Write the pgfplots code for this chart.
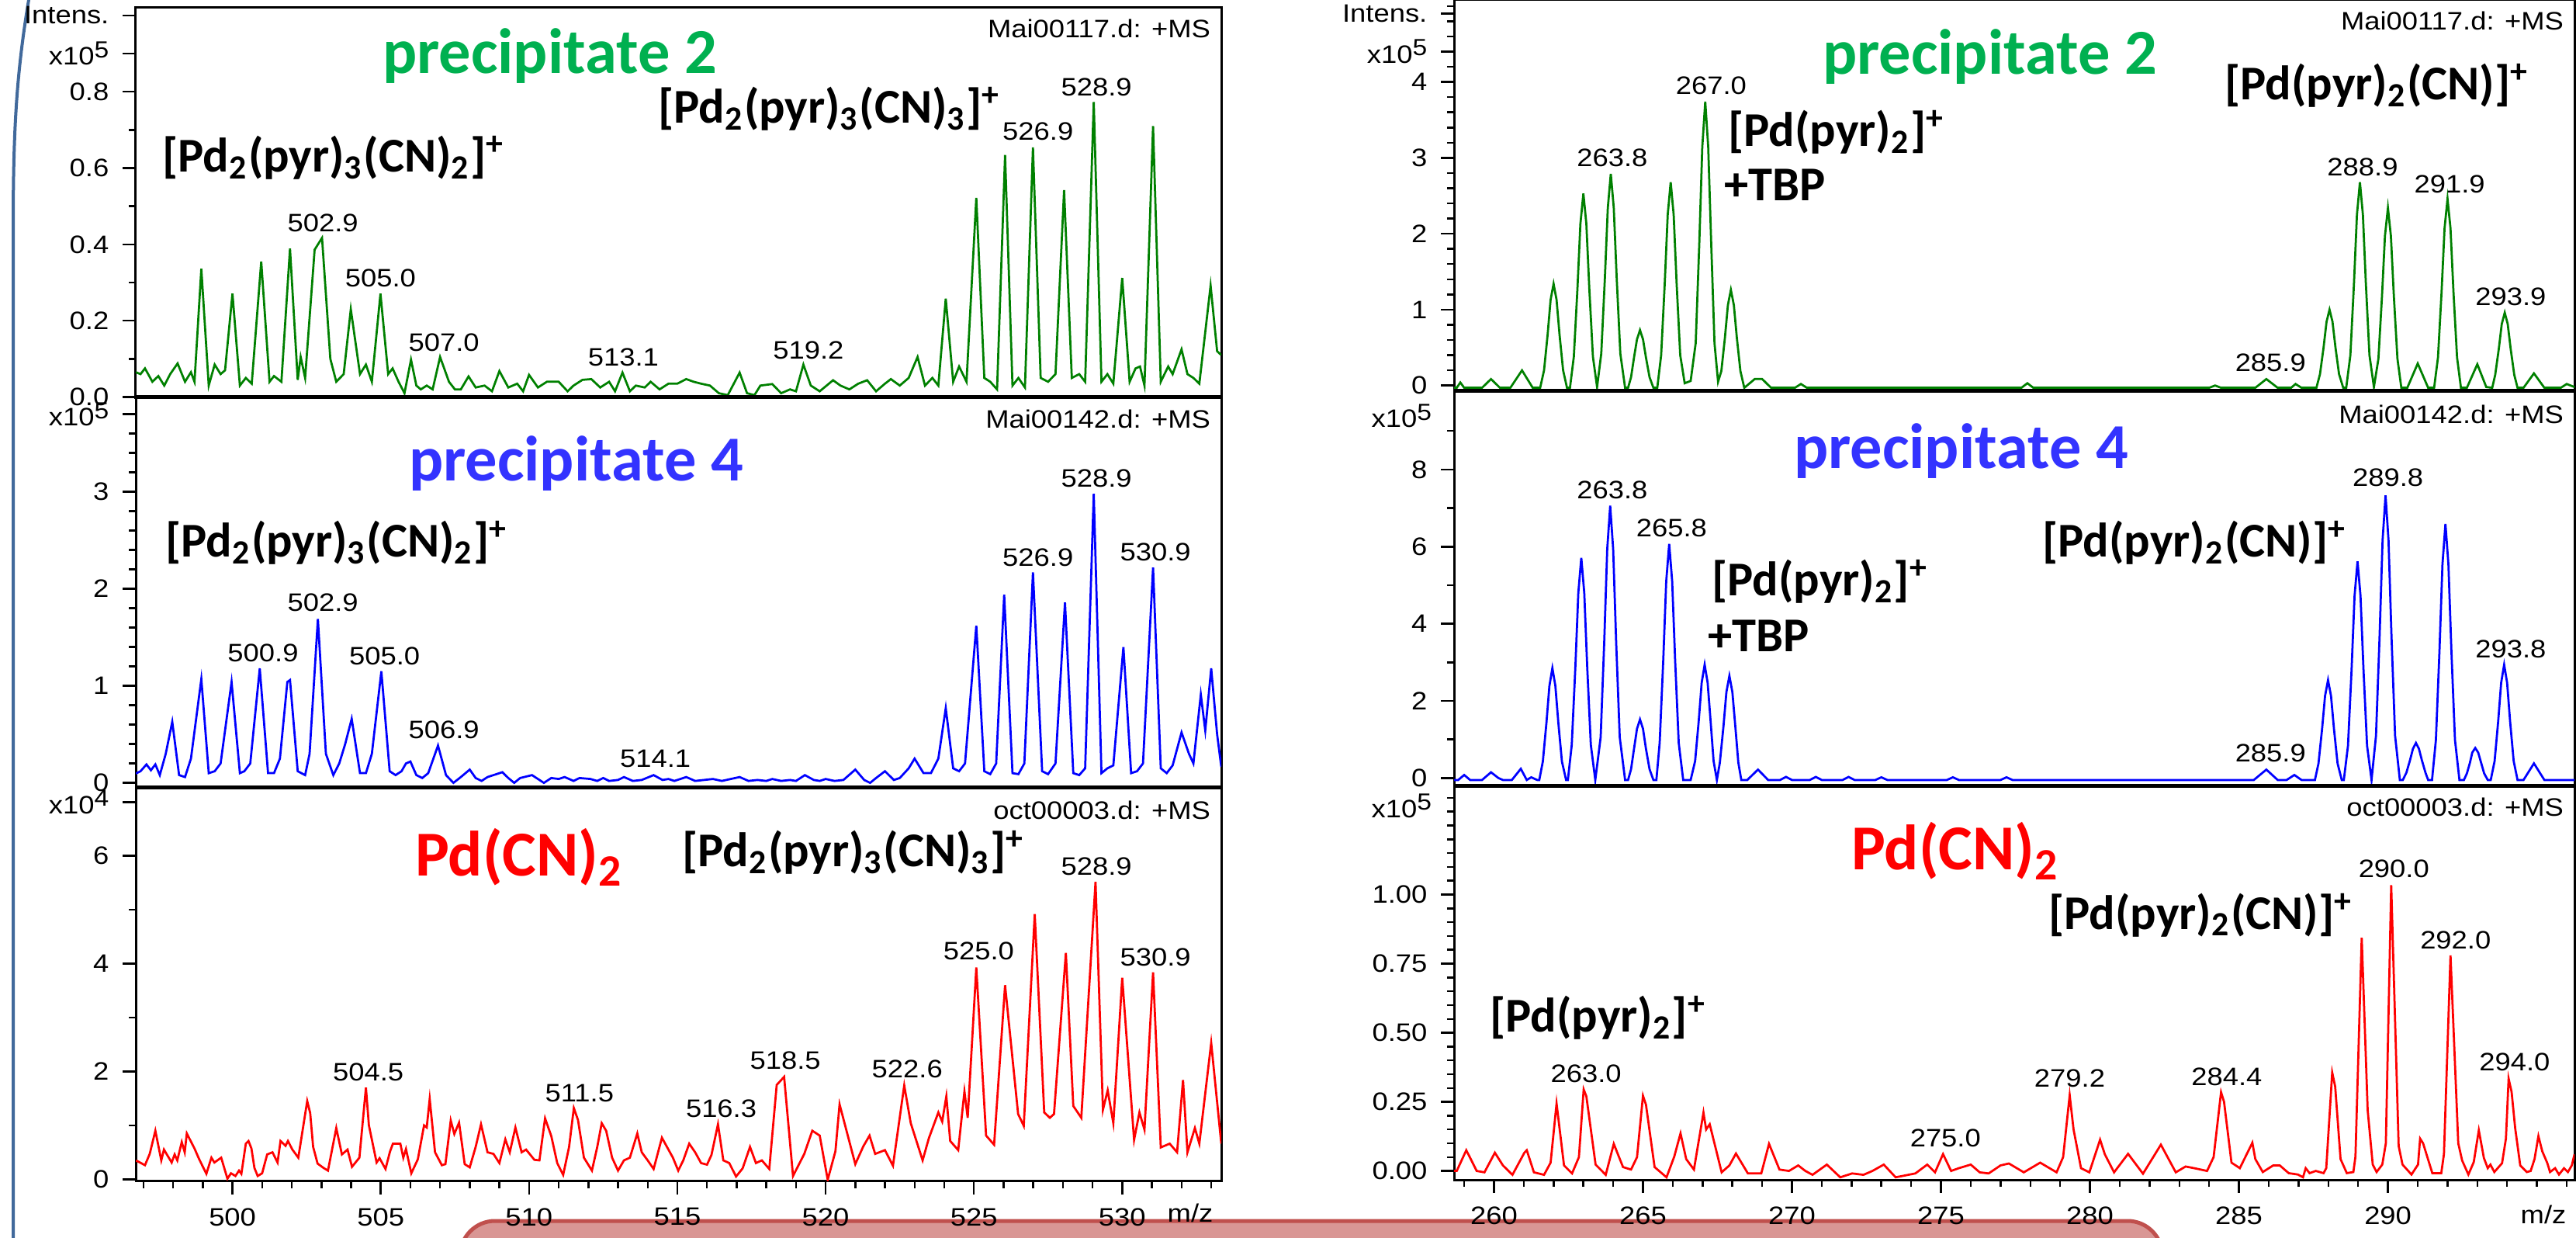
\documentclass[border=0pt]{standalone}
\usepackage{fontspec}
\setmainfont{Liberation Sans}[FakeStretch=1.12]
\newfontfamily\carlito{Carlito}
\usepackage{pgfplots}
\pgfplotsset{compat=1.18}
\definecolor{tgreen}{RGB}{0,176,80}
\definecolor{tblue}{RGB}{51,51,255}
\definecolor{tred}{RGB}{255,0,0}
\definecolor{sgreen}{RGB}{0,128,0}
\definecolor{sblue}{RGB}{0,0,255}
\definecolor{sred}{RGB}{255,0,0}
\definecolor{brk}{RGB}{65,105,155}
\definecolor{pinkfill}{RGB}{217,150,148}
\definecolor{pinkline}{RGB}{192,80,77}
\newcommand{\tl}{\fontsize{6.5}{7.5}\selectfont}
\newcommand{\tfont}{\carlito\bfseries\fontsize{16.5}{18}\selectfont}
\newcommand{\ffont}{\carlito\bfseries\fontsize{12.5}{14}\selectfont}
\newcommand{\xten}[1]{x10\raisebox{1.9pt}{\fontsize{6}{7}\selectfont #1}}
\pgfplotsset{
  ms/.style={scale only axis, anchor=south west,
    axis line style={line width=0.6pt},
    tick align=outside, tick pos=left,
    major tick length=3.4pt, minor tick length=1.8pt,
    tick style={line width=0.5pt, black},
    /pgf/number format/assume math mode=true,
    tick label style={font=\tl},
    every axis plot/.append style={line width=0.55pt, mark=none}},
  lx/.style={xmin=496.74, xmax=533.34, width=279.8pt},
  rx/.style={xmin=258.66, xmax=296.26, width=288.8pt},
}
\tikzset{lbl/.style={anchor=south, inner sep=0pt, font=\tl}}
\begin{document}
\begin{tikzpicture}
\useasboundingbox (0,0) rectangle (664pt,318.8pt);
% pink box and bracket
\draw[line width=1pt, draw=pinkline, fill=pinkfill, rounded corners=9pt] (118.6pt,-20pt) rectangle (557.4pt,4.2pt);
\draw[brk, line width=0.8pt] (7.6pt,320pt) .. controls (4.2pt,300pt) and (3.4pt,285pt) .. (3.4pt,260pt) -- (3.4pt,-2pt);

% ---------------- L1 ----------------
\begin{axis}[ms, lx, at={(35pt,216.2pt)}, height=100.6pt,
  ymin=-0.003, ymax=1.02, xtick=\empty,
  ytick={0,0.2,0.4,0.6,0.8,0.9,1.0},
  yticklabels={0.0,0.2,0.4,0.6,0.8,\xten{5},Intens.},
  minor ytick={0.1,0.3,0.5,0.7}]
\addplot[sgreen] coordinates {(496.74,0.065)(496.9,0.06)(497.05,0.075)(497.3,0.04)(497.5,0.055)(497.7,0.03)(497.9,0.06)(498.15,0.088)(498.4,0.04)(498.6,0.065)(498.72,0.04)(498.95,0.336)(499.2,0.03)(499.4,0.085)(499.6,0.06)(499.75,0.07)(500.0,0.271)(500.25,0.03)(500.45,0.05)(500.65,0.035)(500.97,0.355)(501.25,0.04)(501.4,0.055)(501.65,0.04)(501.94,0.389)(502.2,0.045)(502.3,0.105)(502.45,0.05)(502.77,0.386)(503.02,0.417)(503.3,0.1)(503.5,0.04)(503.75,0.06)(503.99,0.23)(504.3,0.06)(504.5,0.085)(504.7,0.04)(504.99,0.271)(505.25,0.06)(505.4,0.075)(505.6,0.04)(505.8,0.01)(506.02,0.098)(506.2,0.03)(506.35,0.02)(506.55,0.03)(506.75,0.02)(507.0,0.105)(507.3,0.04)(507.5,0.02)(507.7,0.02)(507.96,0.054)(508.2,0.025)(508.5,0.03)(508.75,0.015)(509.0,0.068)(509.3,0.025)(509.6,0.035)(509.8,0.015)(510.0,0.058)(510.3,0.025)(510.6,0.04)(511.0,0.04)(511.3,0.015)(511.5,0.03)(511.8,0.045)(512.1,0.047)(512.4,0.025)(512.7,0.04)(512.9,0.015)(513.15,0.064)(513.4,0.015)(513.6,0.03)(513.9,0.025)(514.1,0.04)(514.4,0.02)(514.7,0.035)(515.0,0.035)(515.3,0.047)(515.55,0.04)(515.8,0.035)(516.1,0.03)(516.4,0.01)(516.7,0.005)(517.1,0.064)(517.35,0.01)(517.6,0.005)(517.8,0.03)(518.2,0.034)(518.5,0.01)(518.8,0.02)(519.0,0.015)(519.25,0.085)(519.5,0.03)(519.8,0.015)(520.25,0.044)(520.5,0.03)(520.8,0.02)(521.1,0.035)(521.4,0.044)(521.7,0.015)(522.0,0.035)(522.2,0.047)(522.5,0.03)(522.8,0.05)(523.1,0.105)(523.35,0.03)(523.6,0.05)(523.8,0.03)(524.05,0.258)(524.3,0.04)(524.5,0.08)(524.75,0.04)(525.08,0.522)(525.35,0.05)(525.55,0.04)(525.78,0.02)(526.05,0.634)(526.3,0.03)(526.5,0.05)(526.72,0.025)(526.99,0.654)(527.25,0.05)(527.5,0.04)(527.75,0.06)(528.04,0.542)(528.3,0.05)(528.55,0.06)(528.75,0.04)(529.04,0.773)(529.3,0.04)(529.5,0.06)(529.7,0.035)(530.0,0.312)(530.25,0.04)(530.45,0.075)(530.6,0.08)(530.75,0.03)(531.04,0.71)(531.3,0.04)(531.55,0.08)(531.7,0.06)(532.0,0.125)(532.2,0.06)(532.4,0.05)(532.6,0.035)(532.98,0.292)(533.2,0.12)(533.34,0.11)};
\node[lbl] at (axis cs:503.05,0.43) {502.9};
\node[lbl] at (axis cs:504.99,0.287) {505.0};
\node[lbl] at (axis cs:507.13,0.117) {507.0};
\node[lbl] at (axis cs:513.18,0.078) {513.1};
\node[lbl] at (axis cs:519.42,0.098) {519.2};
\node[lbl] at (axis cs:527.16,0.671) {526.9};
\node[lbl] at (axis cs:529.13,0.786) {528.9};
\draw[line width=1.6pt] (rel axis cs:0,0) -- (rel axis cs:1,0);
\end{axis}

% ---------------- L2 ----------------
\begin{axis}[ms, lx, at={(35pt,115.6pt)}, height=100.6pt,
  ymin=-0.059, ymax=3.965, xtick=\empty,
  ytick={0,1,2,3,3.8}, yticklabels={0,1,2,3,\xten{5}},
  minor ytick={0.2,0.4,0.6,0.8,1.2,1.4,1.6,1.8,2.2,2.4,2.6,2.8,3.2,3.4,3.6}]
\addplot[sblue] coordinates {(496.74,0.096)(496.9,0.12)(497.1,0.19)(497.25,0.13)(497.4,0.19)(497.55,0.08)(497.75,0.3)(497.97,0.63)(498.2,0.08)(498.4,0.06)(498.6,0.25)(498.95,1.07)(499.2,0.1)(499.4,0.12)(499.6,0.2)(499.97,1.04)(500.25,0.1)(500.4,0.12)(500.6,0.2)(500.92,1.18)(501.2,0.1)(501.4,0.1)(501.6,0.25)(501.85,1.04)(501.94,1.06)(502.2,0.12)(502.45,0.08)(502.6,0.3)(502.88,1.69)(503.15,0.3)(503.4,0.08)(503.6,0.2)(503.8,0.4)(504.02,0.66)(504.3,0.1)(504.5,0.1)(504.7,0.3)(505.02,1.15)(505.3,0.12)(505.5,0.08)(505.7,0.12)(505.85,0.2)(506.0,0.22)(506.2,0.08)(506.4,0.05)(506.6,0.1)(506.93,0.385)(507.2,0.08)(507.45,0.0)(507.7,0.06)(508.0,0.137)(508.2,0.05)(508.4,0.02)(508.6,0.06)(508.8,0.08)(509.1,0.11)(509.3,0.05)(509.5,0.0)(509.7,0.05)(510.1,0.08)(510.3,0.04)(510.5,0.0)(510.75,0.05)(511.0,0.04)(511.2,0.06)(511.5,0.02)(511.7,0.05)(512.07,0.04)(512.3,0.02)(512.5,0.05)(512.7,0.02)(513.0,0.03)(513.2,0.06)(513.5,0.02)(513.8,0.03)(514.2,0.08)(514.5,0.03)(514.7,0.04)(514.9,0.02)(515.3,0.06)(515.6,0.02)(515.9,0.03)(516.2,0.04)(516.5,0.02)(516.8,0.04)(517.1,0.06)(517.4,0.02)(517.7,0.03)(518.0,0.02)(518.2,0.04)(518.5,0.02)(518.8,0.03)(519.0,0.02)(519.3,0.08)(519.6,0.03)(519.8,0.02)(520.0,0.04)(520.3,0.02)(520.6,0.03)(521.0,0.137)(521.3,0.03)(521.5,0.0)(521.7,0.05)(522.0,0.12)(522.3,0.03)(522.5,0.05)(522.8,0.15)(523.0,0.25)(523.3,0.1)(523.55,0.1)(523.8,0.25)(524.05,0.77)(524.3,0.15)(524.5,0.12)(524.7,0.2)(525.08,1.62)(525.35,0.12)(525.55,0.09)(525.75,0.2)(526.02,1.94)(526.3,0.1)(526.5,0.09)(526.7,0.2)(526.99,2.17)(527.3,0.12)(527.5,0.09)(527.75,0.2)(528.07,1.86)(528.35,0.1)(528.55,0.08)(528.75,0.15)(529.04,2.98)(529.3,0.1)(529.5,0.15)(529.7,0.18)(530.04,1.40)(530.3,0.1)(530.5,0.12)(530.7,0.2)(531.04,2.22)(531.3,0.15)(531.5,0.1)(531.7,0.18)(532.0,0.52)(532.25,0.3)(532.4,0.2)(532.65,0.91)(532.8,0.54)(533.0,1.18)(533.2,0.5)(533.34,0.165)};
\node[lbl] at (axis cs:501.03,1.236) {500.9};
\node[lbl] at (axis cs:503.05,1.758) {502.9};
\node[lbl] at (axis cs:505.13,1.209) {505.0};
\node[lbl] at (axis cs:507.13,0.448) {506.9};
\node[lbl] at (axis cs:514.26,0.151) {514.1};
\node[lbl] at (axis cs:527.16,2.225) {526.9};
\node[lbl] at (axis cs:529.13,3.04) {528.9};
\node[lbl] at (axis cs:531.12,2.28) {530.9};
\draw[line width=1.6pt] (rel axis cs:0,0) -- (rel axis cs:1,0);
\end{axis}

% ---------------- L3 ----------------
\begin{axis}[ms, lx, at={(35pt,14.46pt)}, height=101.14pt,
  ymin=-0.035, ymax=7.25,
  xtick={500,505,510,515,520,525,530},
  minor xtick={497,498,...,533},
  ytick={0,2,4,6,7}, yticklabels={0,2,4,6,\xten{4}},
  minor ytick={1,3,5}]
\addplot[sred] coordinates {(496.74,0.34)(496.78,0.34)(497.05,0.26)(497.21,0.47)(497.4,0.9)(497.6,0.35)(497.69,0.55)(497.95,0.31)(498.05,0.46)(498.14,0.35)(498.29,0.69)(498.39,0.5)(498.46,0.85)(498.72,0.57)(498.87,0.38)(499.12,0.1)(499.29,0.4)(499.39,0.31)(499.62,0.4)(499.83,0.01)(499.95,0.11)(500.1,0.06)(500.22,0.16)(500.3,0.1)(500.45,0.66)(500.54,0.71)(500.64,0.57)(500.74,0.21)(500.85,0.06)(501.0,0.11)(501.17,0.46)(501.35,0.5)(501.52,0.31)(501.62,0.71)(501.79,0.62)(501.87,0.71)(502.02,0.55)(502.22,0.4)(502.52,1.45)(502.62,1.23)(502.72,0.6)(502.87,0.29)(503.07,0.21)(503.22,0.16)(503.5,0.95)(503.69,0.46)(503.88,0.55)(504.03,0.23)(504.28,0.4)(504.5,1.7)(504.6,1.0)(504.86,0.31)(504.96,0.39)(505.16,0.19)(505.31,0.51)(505.41,0.66)(505.66,0.66)(505.76,0.4)(505.85,0.56)(506.03,0.11)(506.25,0.37)(506.46,1.0)(506.55,0.96)(506.65,1.49)(506.83,0.5)(507.06,0.26)(507.18,0.28)(507.36,1.09)(507.48,0.84)(507.64,1.05)(507.83,0.28)(508.0,0.22)(508.2,0.6)(508.38,1.02)(508.6,0.5)(508.8,0.47)(509.0,0.3)(509.2,0.74)(509.35,0.5)(509.54,0.96)(509.75,0.5)(509.9,0.55)(510.18,0.36)(510.35,0.35)(510.54,1.13)(510.75,0.8)(510.95,0.3)(511.15,0.08)(511.35,0.6)(511.51,1.32)(511.65,1.1)(511.85,0.4)(512.12,0.16)(512.3,0.6)(512.45,1.04)(512.6,0.9)(512.8,0.4)(513.0,0.16)(513.2,0.35)(513.4,0.4)(513.65,0.85)(513.8,0.5)(514.0,0.35)(514.2,0.19)(514.48,0.77)(514.65,0.6)(514.85,0.4)(515.03,0.16)(515.2,0.35)(515.4,0.66)(515.6,0.5)(515.8,0.3)(516.0,0.27)(516.15,0.45)(516.37,1.02)(516.55,0.35)(516.75,0.3)(516.98,0.05)(517.2,0.2)(517.45,0.6)(517.65,0.3)(517.85,0.35)(518.1,0.19)(518.35,1.75)(518.6,1.9)(518.9,0.06)(519.28,0.47)(519.55,0.9)(519.8,0.81)(520.07,-0.01)(520.33,0.52)(520.47,1.39)(520.68,0.95)(521.0,0.28)(521.27,0.61)(521.48,0.81)(521.67,0.47)(522.0,0.54)(522.27,0.25)(522.65,1.74)(522.87,1.04)(523.27,0.35)(523.48,0.76)(523.8,1.24)(523.93,1.07)(524.07,1.54)(524.2,0.71)(524.47,0.54)(524.68,1.63)(524.79,1.14)(525.08,3.93)(525.41,0.81)(525.68,0.64)(526.05,3.6)(526.49,1.21)(526.68,0.99)(527.05,4.92)(527.37,1.24)(527.56,1.14)(527.7,1.21)(528.1,4.2)(528.35,1.36)(528.62,1.14)(529.1,5.52)(529.35,1.29)(529.51,1.65)(529.7,1.04)(530.0,3.74)(530.4,0.73)(530.58,1.24)(530.75,0.92)(531.04,3.84)(531.3,0.59)(531.6,0.66)(531.85,0.5)(532.05,1.84)(532.2,0.5)(532.45,0.95)(532.6,0.66)(533.0,2.53)(533.34,0.66)};
\node[lbl] at (axis cs:504.58,1.813) {504.5};
\node[lbl] at (axis cs:511.7,1.418) {511.5};
\node[lbl] at (axis cs:516.48,1.126) {516.3};
\node[lbl] at (axis cs:518.64,2.02) {518.5};
\node[lbl] at (axis cs:522.75,1.868) {522.6};
\node[lbl] at (axis cs:525.16,4.05) {525.0};
\node[lbl] at (axis cs:529.13,5.63) {528.9};
\node[lbl] at (axis cs:531.12,3.945) {530.9};
\end{axis}

% ---------------- R1 ----------------
\begin{axis}[ms, rx, at={(374.8pt,217.8pt)}, height=101pt,
  ymin=-0.085, ymax=5.08, xtick=\empty,
  ytick={0,1,2,3,4,4.4,4.9}, yticklabels={0,1,2,3,4,\xten{5},Intens.},
  minor ytick={0.2,0.4,...,5.0}]
\addplot[sgreen] coordinates {(258.66,-0.03)(258.75,-0.03)(258.87,0.04)(259.0,-0.03)(259.6,-0.03)(259.9,0.085)(260.2,-0.03)(260.55,-0.03)(260.94,0.2)(261.3,-0.03)
(261.55,-0.03)(261.68,0.2)(261.8,0.67)(261.9,1.13)(262.0,1.34)(262.1,1.13)(262.2,0.67)(262.32,0.2)(262.45,-0.03)
(262.55,-0.03)(262.68,0.38)(262.8,1.27)(262.9,2.13)(263.0,2.53)(263.1,2.13)(263.2,1.27)(263.32,0.38)(263.46,-0.02)
(263.6,0.42)(263.72,1.4)(263.82,2.34)(263.92,2.79)(264.02,2.34)(264.12,1.4)(264.24,0.42)(264.4,-0.03)
(264.5,-0.03)(264.6,0.11)(264.7,0.37)(264.8,0.61)(264.9,0.73)(265.0,0.61)(265.1,0.37)(265.22,0.11)(265.35,-0.03)
(265.48,-0.03)(265.61,0.4)(265.73,1.34)(265.83,2.25)(265.93,2.68)(266.03,2.25)(266.13,1.34)(266.25,0.4)(266.4,0.03)
(266.6,0.06)(266.77,0.56)(266.89,1.87)(266.99,3.14)(267.09,3.74)(267.19,3.14)(267.29,1.87)(267.4,0.56)(267.52,0.05)
(267.63,0.19)(267.75,0.63)(267.85,1.06)(267.95,1.26)(268.05,1.06)(268.15,0.63)(268.27,0.19)(268.4,-0.03)
(268.75,0.085)(269.0,0.085)(269.3,-0.03)(270.1,-0.03)(270.3,0.02)(270.5,-0.03)(277.7,-0.03)(277.9,0.03)(278.1,-0.03)(284.0,-0.03)(284.2,0.0)(284.4,-0.03)(285.55,-0.03)(285.92,0.085)(286.3,-0.03)(286.75,-0.03)(286.9,0.02)(287.1,-0.03)
(287.6,-0.03)(287.72,0.15)(287.84,0.5)(287.94,0.84)(288.04,1.0)(288.14,0.84)(288.24,0.5)(288.36,0.15)(288.5,-0.03)
(288.6,-0.03)(288.74,0.4)(288.86,1.34)(288.96,2.25)(289.06,2.68)(289.16,2.25)(289.26,1.34)(289.38,0.4)(289.53,-0.02)
(289.68,0.35)(289.8,1.17)(289.9,1.97)(290.0,2.34)(290.1,1.97)(290.2,1.17)(290.32,0.35)(290.45,-0.03)
(290.65,-0.03)(291.0,0.29)(291.35,-0.03)
(291.55,-0.03)(291.68,0.37)(291.8,1.23)(291.9,2.07)(292.0,2.46)(292.1,2.07)(292.2,1.23)(292.32,0.37)(292.45,-0.03)
(292.65,-0.03)(293.0,0.28)(293.3,-0.02)
(293.5,-0.03)(293.6,0.14)(293.72,0.48)(293.82,0.81)(293.92,0.96)(294.02,0.81)(294.12,0.48)(294.24,0.14)(294.35,-0.03)
(294.55,-0.03)(294.9,0.16)(295.25,-0.03)(295.8,-0.03)(296.0,0.02)(296.26,-0.02)};
\node[lbl] at (axis cs:267.29,3.82) {267.0};
\node[lbl] at (axis cs:263.97,2.87) {263.8};
\node[lbl] at (axis cs:286.06,0.17) {285.9};
\node[lbl] at (axis cs:289.15,2.75) {288.9};
\node[lbl] at (axis cs:292.07,2.53) {291.9};
\node[lbl] at (axis cs:294.12,1.04) {293.9};
\draw[line width=1.6pt] (rel axis cs:0,0) -- (rel axis cs:1,0);
\end{axis}

% ---------------- R2 ----------------
\begin{axis}[ms, rx, at={(374.8pt,116pt)}, height=101.8pt,
  ymin=-0.233, ymax=10.01, xtick=\empty,
  ytick={0,2,4,6,8}, yticklabels={0,2,4,6,8},
  minor ytick={1,3,5,7,9}]
\addplot[sblue] coordinates {(258.66,-0.05)(258.8,-0.05)(259.0,0.08)(259.2,-0.05)(259.6,-0.05)(259.9,0.15)(260.15,0.0)(260.3,-0.05)(260.6,-0.05)(260.9,0.24)(261.1,-0.05)(261.25,0.02)(261.45,-0.05)
(261.52,-0.05)(261.64,0.43)(261.76,1.43)(261.86,2.39)(261.96,2.85)(262.06,2.39)(262.16,1.43)(262.28,0.43)(262.42,-0.05)
(262.48,-0.05)(262.61,0.86)(262.73,2.86)(262.83,4.8)(262.93,5.71)(263.03,4.8)(263.13,2.86)(263.25,0.86)(263.4,-0.05)
(263.58,1.06)(263.7,3.53)(263.8,5.93)(263.9,7.06)(264.0,5.93)(264.1,3.53)(264.22,1.06)(264.4,-0.05)
(264.5,-0.05)(264.6,0.23)(264.7,0.76)(264.8,1.28)(264.9,1.52)(265.0,1.28)(265.1,0.76)(265.22,0.23)(265.35,-0.05)
(265.45,-0.05)(265.56,0.91)(265.68,3.04)(265.78,5.1)(265.88,6.07)(265.98,5.1)(266.08,3.04)(266.2,0.91)(266.35,-0.05)
(266.6,-0.05)(266.75,0.44)(266.87,1.47)(266.97,2.47)(267.07,2.94)(267.17,2.47)(267.27,1.47)(267.37,0.44)(267.48,-0.05)
(267.58,0.4)(267.7,1.33)(267.8,2.23)(267.9,2.65)(268.0,2.23)(268.1,1.33)(268.2,0.4)(268.3,-0.05)
(268.5,-0.05)(268.86,0.22)(269.2,-0.05)(269.6,-0.05)(269.8,0.03)(270.0,-0.05)(270.6,-0.05)(270.8,0.03)(271.0,-0.05)(271.7,-0.05)(271.9,0.03)(272.1,-0.05)(272.8,-0.05)(273.0,0.02)(273.2,-0.05)(275.2,-0.05)(275.4,0.02)(275.6,-0.05)(277.0,-0.05)(277.2,0.02)(277.4,-0.05)(285.5,-0.05)(285.92,0.22)(286.3,-0.05)(286.6,-0.05)(286.86,0.08)(287.1,-0.05)
(287.55,-0.05)(287.67,0.38)(287.79,1.27)(287.89,2.13)(287.99,2.54)(288.09,2.13)(288.19,1.27)(288.31,0.38)(288.45,-0.05)
(288.52,-0.05)(288.66,0.84)(288.78,2.81)(288.88,4.72)(288.98,5.62)(289.08,4.72)(289.18,2.81)(289.3,0.84)(289.45,-0.05)
(289.6,1.1)(289.72,3.67)(289.82,6.16)(289.92,7.33)(290.02,6.16)(290.12,3.67)(290.24,1.1)(290.4,-0.05)
(290.5,-0.05)(290.62,0.14)(290.74,0.46)(290.84,0.76)(290.94,0.91)(291.04,0.76)(291.14,0.46)(291.26,0.14)(291.35,-0.05)
(291.48,-0.05)(291.61,0.99)(291.73,3.3)(291.83,5.54)(291.93,6.59)(292.03,5.54)(292.13,3.3)(292.25,0.99)(292.4,-0.05)
(292.55,-0.05)(292.65,0.12)(292.75,0.39)(292.83,0.66)(292.93,0.78)(293.03,0.66)(293.13,0.39)(293.23,0.12)(293.35,-0.05)
(293.45,-0.05)(293.58,0.44)(293.7,1.47)(293.8,2.47)(293.9,2.94)(294.0,2.47)(294.1,1.47)(294.22,0.44)(294.35,-0.05)
(294.55,-0.05)(294.9,0.38)(295.25,-0.05)(296.26,-0.05)};
\node[lbl] at (axis cs:263.97,7.22) {263.8};
\node[lbl] at (axis cs:265.96,6.23) {265.8};
\node[lbl] at (axis cs:290.0,7.53) {289.8};
\node[lbl] at (axis cs:286.06,0.39) {285.9};
\node[lbl] at (axis cs:294.12,3.10) {293.8};
\draw[line width=1.6pt] (rel axis cs:0,0) -- (rel axis cs:1,0);
\end{axis}

% ---------------- R3 ----------------
\begin{axis}[ms, rx, at={(374.8pt,14.8pt)}, height=101.2pt,
  ymin=-0.032, ymax=1.389,
  xtick={260,265,270,275,280,285,290},
  minor xtick={259,260,...,296},
  ytick={0,0.25,0.5,0.75,1.0}, yticklabels={0.00,0.25,0.50,0.75,1.00},
  minor ytick={0.05,0.1,...,1.36}]
\addplot[sred] coordinates {(258.66,0.0)(258.75,0.0)(259.07,0.075)(259.42,0.0)(259.68,-0.005)(260.03,0.066)(260.3,0.02)(260.62,-0.014)(261.02,0.066)(261.1,0.075)(261.34,-0.005)(261.68,-0.014)(261.9,0.03)(262.1,0.244)(262.35,0.02)(262.62,-0.009)(262.85,0.05)(263.01,0.295)(263.1,0.27)(263.41,0.023)(263.75,-0.014)(264.02,0.098)(264.33,0.014)(264.6,0.005)(264.8,0.05)(265.0,0.272)(265.1,0.24)(265.39,0.014)(265.79,-0.023)(266.05,0.052)(266.26,0.136)(266.45,0.043)(266.71,0.005)(267.03,0.211)(267.12,0.15)(267.24,0.169)(267.64,-0.005)(267.9,0.02)(268.12,0.063)(268.52,-0.009)(268.97,-0.009)(269.23,0.098)(269.58,0.005)(269.9,0.0)(270.21,0.02)(270.45,0.0)(270.69,-0.014)(271.17,0.023)(271.62,-0.023)(272.02,-0.009)(272.4,-0.014)(272.7,0.0)(273.08,0.023)(273.48,-0.023)(274.14,-0.009)(274.54,0.023)(274.8,-0.005)(275.07,0.061)(275.34,0.0)(275.6,0.01)(276.0,0.023)(276.3,-0.005)(276.6,-0.009)(277.0,0.02)(277.28,0.027)(277.78,-0.005)(278.33,0.03)(278.88,-0.005)(279.1,0.05)(279.32,0.274)(279.45,0.15)(279.7,0.01)(279.98,-0.005)(280.34,0.113)(280.5,0.06)(280.81,-0.005)(281.28,0.062)(281.78,-0.01)(282.38,0.095)(282.88,-0.005)(283.21,0.016)(283.5,0.01)(283.93,0.0)(284.15,0.05)(284.4,0.285)(284.5,0.25)(284.75,0.03)(285.03,0.01)(285.45,0.102)(285.55,0.043)(285.8,-0.004)(286.15,0.02)(286.37,0.02)(286.67,-0.008)(286.98,-0.013)(287.15,-0.023)(287.24,0.01)(287.37,-0.008)(287.58,0.0)(287.84,-0.008)(287.93,0.01)(288.13,0.356)(288.23,0.305)(288.41,0.043)(288.62,-0.008)(288.84,-0.004)(288.91,0.052)(289.12,0.844)(289.32,0.22)(289.49,0.023)(289.62,-0.004)(289.81,0.023)(289.93,0.1)(290.11,1.034)(290.36,0.09)(290.49,0.023)(290.79,-0.013)(291.01,0.023)(291.08,0.117)(291.18,0.1)(291.49,-0.008)(291.79,-0.008)(291.88,0.061)(292.1,0.78)(292.36,0.1)(292.49,0.038)(292.7,-0.013)(292.88,0.032)(293.05,0.147)(293.22,0.047)(293.35,0.01)(293.44,0.023)(293.57,-0.004)(293.83,0.028)(293.96,0.117)(294.05,0.334)(294.15,0.286)(294.27,0.155)(294.44,0.02)(294.66,-0.004)(294.79,0.0)(294.92,0.043)(295.05,0.126)(295.18,0.071)(295.35,0.028)(295.44,-0.004)(295.61,0.01)(295.74,-0.013)(295.91,0.01)(296.04,-0.004)(296.17,0.02)(296.26,0.06)};
\node[lbl] at (axis cs:263.09,0.317) {263.0};
\node[lbl] at (axis cs:275.15,0.084) {275.0};
\node[lbl] at (axis cs:279.32,0.299) {279.2};
\node[lbl] at (axis cs:284.59,0.306) {284.4};
\node[lbl] at (axis cs:290.2,1.059) {290.0};
\node[lbl] at (axis cs:292.27,0.801) {292.0};
\node[lbl] at (axis cs:294.25,0.36) {294.0};
\end{axis}

% ---------------- texts ----------------
\node[anchor=east, inner sep=0pt, font=\tl] at (369.2pt,211.6pt) {\xten{5}};
\node[anchor=east, inner sep=0pt, font=\tl] at (369.2pt,111.1pt) {\xten{5}};
\node[anchor=east, inner sep=0pt, font=\tl] at (312.2pt,311.5pt) {Mai00117.d: +MS};
\node[anchor=east, inner sep=0pt, font=\tl] at (312.2pt,210.8pt) {Mai00142.d: +MS};
\node[anchor=east, inner sep=0pt, font=\tl] at (312.2pt,110.1pt) {oct00003.d: +MS};
\node[anchor=east, inner sep=0pt, font=\tl] at (661pt,313.5pt) {Mai00117.d: +MS};
\node[anchor=east, inner sep=0pt, font=\tl] at (661pt,212.1pt) {Mai00142.d: +MS};
\node[anchor=east, inner sep=0pt, font=\tl] at (661pt,110.8pt) {oct00003.d: +MS};
\node[inner sep=0pt, font=\tl] at (306.8pt,6.2pt) {m/z};
\node[inner sep=0pt, font=\tl] at (655.6pt,5.8pt) {m/z};

\node[anchor=base west, inner sep=0pt, text=tgreen, font=\tfont] at (98.4pt,299.8pt) {precipitate 2};
\node[anchor=base west, inner sep=0pt, text=tblue, font=\tfont] at (105.2pt,194.9pt) {precipitate 4};
\node[anchor=base west, inner sep=0pt, text=tred, font=\tfont] at (106.8pt,93pt) {Pd(CN)\textsubscript{2}};
\node[anchor=base west, inner sep=0pt, text=tgreen, font=\tfont] at (469.6pt,299.6pt) {precipitate 2};
\node[anchor=base west, inner sep=0pt, text=tblue, font=\tfont] at (462.2pt,198pt) {precipitate 4};
\node[anchor=base west, inner sep=0pt, text=tred, font=\tfont] at (477pt,94.6pt) {Pd(CN)\textsubscript{2}};

\node[anchor=base west, inner sep=0pt, font=\ffont] at (169.4pt,287.1pt) {[Pd\textsubscript{2}(pyr)\textsubscript{3}(CN)\textsubscript{3}]\textsuperscript{+}};
\node[anchor=base west, inner sep=0pt, font=\ffont] at (41.6pt,274.5pt) {[Pd\textsubscript{2}(pyr)\textsubscript{3}(CN)\textsubscript{2}]\textsuperscript{+}};
\node[anchor=base west, inner sep=0pt, font=\ffont] at (42.4pt,175.3pt) {[Pd\textsubscript{2}(pyr)\textsubscript{3}(CN)\textsubscript{2}]\textsuperscript{+}};
\node[anchor=base west, inner sep=0pt, font=\ffont] at (175.6pt,95.5pt) {[Pd\textsubscript{2}(pyr)\textsubscript{3}(CN)\textsubscript{3}]\textsuperscript{+}};
\node[anchor=base west, inner sep=0pt, font=\ffont] at (445.2pt,281.1pt) {[Pd(pyr)\textsubscript{2}]\textsuperscript{+}};
\node[anchor=base west, inner sep=0pt, font=\ffont] at (444.2pt,267.1pt) {+TBP};
\node[anchor=base west, inner sep=0pt, font=\ffont] at (573.2pt,293.1pt) {[Pd(pyr)\textsubscript{2}(CN)]\textsuperscript{+}};
\node[anchor=base west, inner sep=0pt, font=\ffont] at (441pt,165.3pt) {[Pd(pyr)\textsubscript{2}]\textsuperscript{+}};
\node[anchor=base west, inner sep=0pt, font=\ffont] at (440pt,150.8pt) {+TBP};
\node[anchor=base west, inner sep=0pt, font=\ffont] at (526.2pt,175.3pt) {[Pd(pyr)\textsubscript{2}(CN)]\textsuperscript{+}};
\node[anchor=base west, inner sep=0pt, font=\ffont] at (527.8pt,79.4pt) {[Pd(pyr)\textsubscript{2}(CN)]\textsuperscript{+}};
\node[anchor=base west, inner sep=0pt, font=\ffont] at (383.8pt,52.9pt) {[Pd(pyr)\textsubscript{2}]\textsuperscript{+}};
\end{tikzpicture}
\end{document}
